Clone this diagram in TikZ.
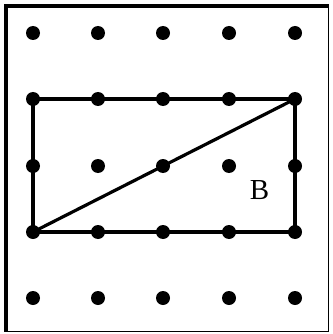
\documentclass[tikz,border=0pt]{standalone}
\usepackage{fontspec}
\setmainfont{Liberation Serif}
\begin{document}
\begin{tikzpicture}[x=1pt,y=-1pt,
  dot/.style={circle,fill=black,inner sep=0pt,minimum size=14pt},
  edge/.style={line width=3.2pt,line cap=round}]
\useasboundingbox (0,0) rectangle (332,334);
\fill[white] (0,0) rectangle (332,334);
% frame
\draw[line width=1.8pt] (328.5,6) -- (328.5,331.5) -- (6,331.5);
\draw[line width=3.8pt] (6,331.5) -- (6,6) -- (328.5,6);
% dots
\foreach \i/\x in {1/33,2/98,3/163,4/229,5/295}{
  \foreach \j/\y in {1/33,2/99,3/166,4/232,5/298}{
    \node[dot] (d\i\j) at (\x,\y) {};
  }
}
\draw[edge] (d12.center) -- (d52.center) -- (d54.center) -- (d14.center) -- cycle;
\draw[edge] (d14.center) -- (d52.center);
\node[font=\fontsize{29}{32}\selectfont,inner sep=0pt] (B) at (259.5,190.5) {B};
\end{tikzpicture}
\end{document}
